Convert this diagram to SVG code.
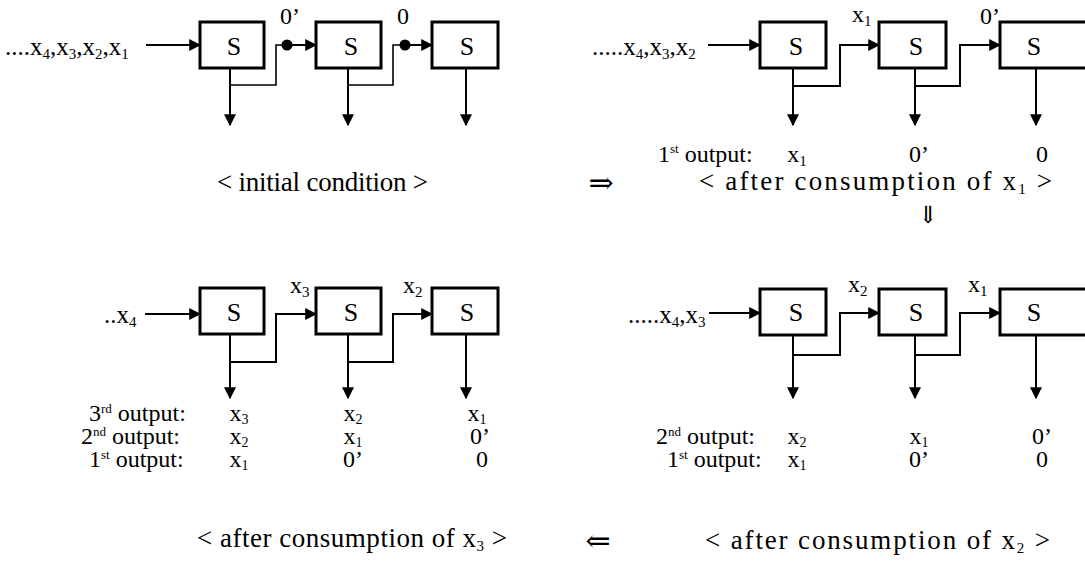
<svg xmlns="http://www.w3.org/2000/svg" width="1085" height="569" viewBox="0 0 1085 569" font-family="'Liberation Serif','DejaVu Serif','Noto Serif',serif">
<style>
text{font-family:"Liberation Serif","DejaVu Serif","Noto Serif",serif;font-size:24px;fill:#000}
.s{text-anchor:middle;font-size:26px}
.m{text-anchor:middle}
.in{font-size:25px}
.row{font-size:24px}
.cap{font-size:27px}
.dbl{font-size:30px}
.sub{font-size:15px}
.rs{font-size:14px}
.sup{font-size:13px}
.box{fill:#fff;stroke:#000;stroke-width:3}
.ln{fill:none;stroke:#000;stroke-width:1.6}
.ar{fill:none;stroke:#000;stroke-width:2;marker-end:url(#ah)}
</style>
<defs>
<marker id="ah" viewBox="0 0 10 10" refX="9" refY="5" markerWidth="12" markerHeight="12" markerUnits="userSpaceOnUse" orient="auto"><path d="M0,0 L10,5 L0,10 z" fill="#000"/></marker>
</defs>
<rect width="1085" height="569" fill="#fff"/>

<g id="connectors">
<line class="ar" x1="146" y1="45" x2="200" y2="45"/>
<path class="ln" d="M230,85 H276 V45 H287"/>
<line class="ar" x1="287" y1="45" x2="316" y2="45"/>
<path class="ln" d="M348,85 H393 V45 H405"/>
<line class="ar" x1="405" y1="45" x2="432" y2="45"/>
<line class="ar" x1="230" y1="68" x2="230" y2="125"/>
<line class="ar" x1="348" y1="68" x2="348" y2="125"/>
<line class="ar" x1="466" y1="68" x2="466" y2="125"/>
<circle cx="287" cy="45" r="5.5"/>
<circle cx="405" cy="45" r="5.5"/>
<line class="ar" x1="708" y1="45" x2="760" y2="45"/>
<path class="ar" d="M793,86 H840 V45 H879"/>
<path class="ar" d="M915,86 H960 V45 H1000"/>
<line class="ar" x1="793" y1="68" x2="793" y2="125"/>
<line class="ar" x1="915" y1="68" x2="915" y2="125"/>
<line class="ar" x1="1036" y1="68" x2="1036" y2="125"/>
<line class="ar" x1="145" y1="314" x2="200" y2="314"/>
<path class="ar" d="M230,362 H276 V314 H316"/>
<path class="ar" d="M348,362 H393 V314 H432"/>
<line class="ar" x1="230" y1="334" x2="230" y2="398"/>
<line class="ar" x1="348" y1="334" x2="348" y2="398"/>
<line class="ar" x1="466" y1="334" x2="466" y2="398"/>
<line class="ar" x1="709" y1="313" x2="760" y2="313"/>
<path class="ar" d="M793,355 H840 V313 H879"/>
<path class="ar" d="M915,355 H960 V313 H1000"/>
<line class="ar" x1="793" y1="335" x2="793" y2="398"/>
<line class="ar" x1="915" y1="335" x2="915" y2="398"/>
<line class="ar" x1="1036" y1="335" x2="1036" y2="398"/>
</g>

<g id="tl-box1"><rect class="box" x="200" y="22" width="64" height="46"/><text class="s" x="234" y="55">S</text></g>
<g id="tl-box2"><rect class="box" x="316" y="22" width="65" height="46"/><text class="s" x="351" y="55">S</text></g>
<g id="tl-box3"><rect class="box" x="432" y="22" width="66" height="46"/><text class="s" x="467" y="55">S</text></g>
<g id="tl-labels">
<text class="in" x="5" y="55">....x<tspan class="sub" dy="4">4</tspan><tspan dy="-4">,x</tspan><tspan class="sub" dy="4">3</tspan><tspan dy="-4">,x</tspan><tspan class="sub" dy="4">2</tspan><tspan dy="-4">,x</tspan><tspan class="sub" dy="4">1</tspan></text>
<text class="m" x="290" y="24">0’</text>
<text class="m" x="403" y="24">0</text>
<text class="cap" x="217" y="191" textLength="211" lengthAdjust="spacing">&lt; initial condition &gt;</text>
</g>

<g id="tr-box1"><rect class="box" x="760" y="22" width="66" height="46"/><text class="s" x="796" y="55">S</text></g>
<g id="tr-box2"><rect class="box" x="879" y="22" width="67" height="46"/><text class="s" x="916" y="55">S</text></g>
<g id="tr-box3"><rect class="box" x="1000" y="22" width="100" height="46"/><text class="s" x="1034" y="55">S</text></g>
<g id="tr-labels">
<text class="in" x="592" y="55">.....x<tspan class="sub" dy="4">4</tspan><tspan dy="-4">,x</tspan><tspan class="sub" dy="4">3</tspan><tspan dy="-4">,x</tspan><tspan class="sub" dy="4">2</tspan></text>
<text x="852" y="22">x<tspan class="sub" dy="4">1</tspan></text>
<text class="m" x="990" y="24">0’</text>
<text x="658" y="162">1<tspan class="sup" dy="-9">st</tspan><tspan dy="9"> output:</tspan></text>
<text class="m" x="797" y="162">x<tspan class="sub" dy="4">1</tspan></text>
<text class="m" x="919" y="162">0’</text>
<text class="m" x="1042" y="162">0</text>
<text class="m dbl" x="601" y="193">⇒</text>
<text class="cap" x="699" y="190" textLength="353" lengthAdjust="spacing">&lt; after consumption of x<tspan class="sub" dy="4">1</tspan><tspan dy="-4"> &gt;</tspan></text>
<text class="m" x="928" y="223">⇓</text>
</g>

<g id="bl-box1"><rect class="box" x="200" y="288" width="64" height="46"/><text class="s" x="234" y="321">S</text></g>
<g id="bl-box2"><rect class="box" x="316" y="288" width="65" height="46"/><text class="s" x="351" y="321">S</text></g>
<g id="bl-box3"><rect class="box" x="432" y="288" width="66" height="46"/><text class="s" x="467" y="321">S</text></g>
<g id="bl-labels">
<text class="in" x="104" y="323">..x<tspan class="sub" dy="4">4</tspan></text>
<text x="290" y="293">x<tspan class="sub" dy="4">3</tspan></text>
<text x="403" y="293">x<tspan class="sub" dy="4">2</tspan></text>
<text class="row" x="89" y="421">3<tspan class="sup" dy="-8">rd</tspan><tspan dy="8"> output:</tspan></text>
<text class="m row" x="239" y="421">x<tspan class="rs" dy="3">3</tspan></text>
<text class="m row" x="353" y="421">x<tspan class="rs" dy="3">2</tspan></text>
<text class="m row" x="477" y="421">x<tspan class="rs" dy="3">1</tspan></text>
<text class="row" x="81" y="444">2<tspan class="sup" dy="-8">nd</tspan><tspan dy="8"> output:</tspan></text>
<text class="m row" x="239" y="444">x<tspan class="rs" dy="3">2</tspan></text>
<text class="m row" x="353" y="444">x<tspan class="rs" dy="3">1</tspan></text>
<text class="m row" x="480" y="444">0’</text>
<text class="row" x="89" y="467">1<tspan class="sup" dy="-8">st</tspan><tspan dy="8"> output:</tspan></text>
<text class="m row" x="239" y="467">x<tspan class="rs" dy="3">1</tspan></text>
<text class="m row" x="353" y="467">0’</text>
<text class="m row" x="482" y="467">0</text>
<text class="cap" x="197" y="547" textLength="310" lengthAdjust="spacing">&lt; after consumption of x<tspan class="sub" dy="4">3</tspan><tspan dy="-4"> &gt;</tspan></text>
</g>

<g id="br-box1"><rect class="box" x="760" y="289" width="66" height="46"/><text class="s" x="796" y="321">S</text></g>
<g id="br-box2"><rect class="box" x="879" y="289" width="67" height="46"/><text class="s" x="916" y="321">S</text></g>
<g id="br-box3"><rect class="box" x="1000" y="289" width="100" height="46"/><text class="s" x="1034" y="321">S</text></g>
<g id="br-labels">
<text class="in" x="628" y="323">.....x<tspan class="sub" dy="4">4</tspan><tspan dy="-4">,x</tspan><tspan class="sub" dy="4">3</tspan></text>
<text x="848" y="292">x<tspan class="sub" dy="4">2</tspan></text>
<text x="968" y="292">x<tspan class="sub" dy="4">1</tspan></text>
<text class="row" x="656" y="444">2<tspan class="sup" dy="-8">nd</tspan><tspan dy="8"> output:</tspan></text>
<text class="m row" x="797" y="444">x<tspan class="rs" dy="3">2</tspan></text>
<text class="m row" x="919" y="444">x<tspan class="rs" dy="3">1</tspan></text>
<text class="m row" x="1042" y="444">0’</text>
<text class="row" x="667" y="467">1<tspan class="sup" dy="-8">st</tspan><tspan dy="8"> output:</tspan></text>
<text class="m row" x="797" y="467">x<tspan class="rs" dy="3">1</tspan></text>
<text class="m row" x="919" y="467">0’</text>
<text class="m row" x="1042" y="467">0</text>
<text class="m dbl" x="598" y="551">⇐</text>
<text class="cap" x="705" y="549" textLength="345" lengthAdjust="spacing">&lt; after consumption of x<tspan class="sub" dy="4">2</tspan><tspan dy="-4"> &gt;</tspan></text>
</g>
</svg>
